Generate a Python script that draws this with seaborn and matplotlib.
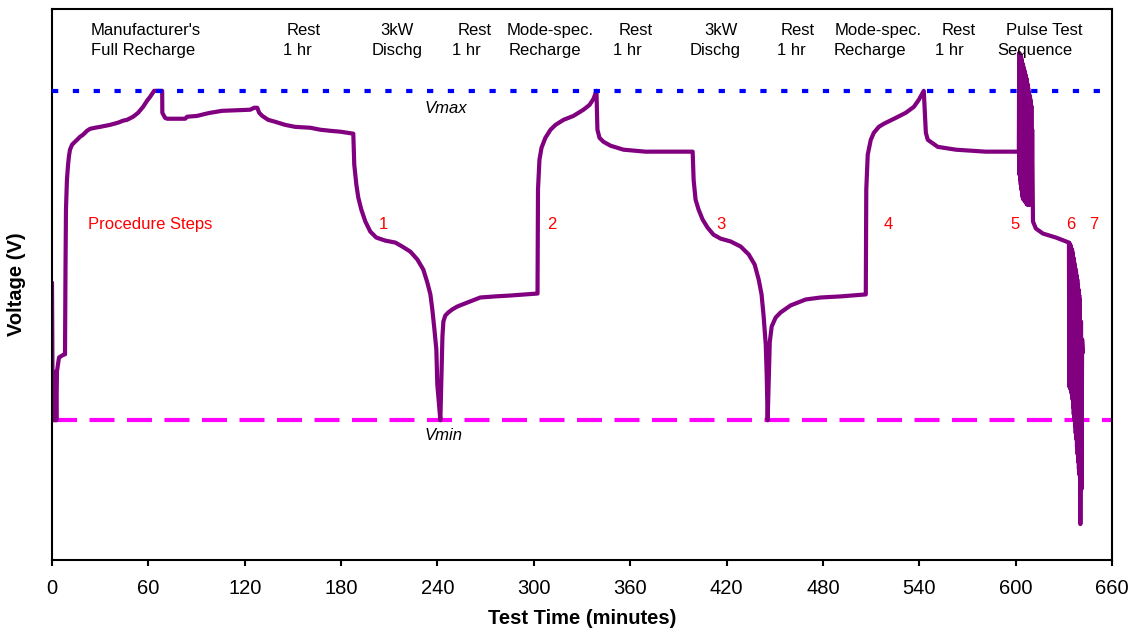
import numpy as np
import pandas as pd
import matplotlib
matplotlib.use("Agg")
import matplotlib.pyplot as plt
import seaborn as sns

sns.set_theme(style="white")
plt.rcParams["font.family"] = ["Liberation Sans", "DejaVu Sans"]
plt.rcParams["path.simplify"] = False

# ---- Voltage trace, one (minutes, volts) pair per test phase ----
t_full_recharge = [0.0, 0.3, 0.7, 1.2, 1.7, 2.2, 2.7, 3.1, 4.0, 4.4, 7.5, 8.1,
                   8.4, 8.7, 9.3, 10.0, 10.6, 11.2, 12.5, 14.3, 15.6, 17.5, 19.3, 21.8,
                   23.7, 26.8, 29.9, 36.1, 41.1, 44.2, 46.7, 50.5, 53.6, 56.7, 59.2, 61.1,
                   63.6, 68.6, 68.7, 70.4, 71.7, 82.9, 84.1, 90.4, 95.4, 98.5, 105.9, 123.4,
                   125.9, 127.8, 129.0, 130.9, 134.6, 139.0, 145.2, 151.4, 160.8, 167.0, 173.3,
                   179.5, 187.6]
v_full_recharge = [3.127, 2.718, 2.5, 2.72, 2.5, 2.72, 2.5, 2.723, 2.768, 2.786, 2.8, 2.8,
                   3.186, 3.459, 3.595, 3.664, 3.705, 3.732, 3.755, 3.768, 3.777, 3.791, 3.8, 3.818,
                   3.827, 3.832, 3.836, 3.845, 3.855, 3.864, 3.868, 3.882, 3.9, 3.927, 3.955, 3.973,
                   4.0, 4.0, 3.9, 3.877, 3.873, 3.873, 3.882, 3.886, 3.895, 3.9, 3.909, 3.914,
                   3.923, 3.923, 3.9, 3.886, 3.868, 3.859, 3.845, 3.836, 3.832, 3.823, 3.818,
                   3.814, 3.805]

t_discharge_1 = [187.6, 188.2, 189.5, 190.7, 192.6, 195.1, 198.2, 201.9, 207.5, 213.8, 218.1, 223.1,
                 227.5, 231.2, 233.7, 235.6, 236.8, 238.1, 239.3, 239.9, 241.8, 243.1, 243.7, 244.9,
                 246.8, 249.3, 252.4, 258.6, 266.7, 276.1, 285.4, 302.3]
v_discharge_1 = [3.805, 3.664, 3.573, 3.514, 3.459, 3.405, 3.359, 3.332, 3.318, 3.309, 3.291, 3.268,
                 3.232, 3.186, 3.127, 3.073, 3.005, 2.914, 2.823, 2.664, 2.5, 2.882, 2.95, 2.977,
                 2.991, 3.005, 3.018, 3.036, 3.059, 3.064, 3.068, 3.077]

t_recharge_2 = [302.3, 302.6, 303.5, 304.8, 307.2, 310.4, 313.5, 318.5, 324.7, 330.9, 334.7, 337.2,
                339.0, 339.6, 340.9, 343.4, 347.8, 355.9, 369.6, 398.9]
v_recharge_2 = [3.077, 3.55, 3.686, 3.741, 3.786, 3.823, 3.845, 3.868, 3.886, 3.914, 3.936, 3.964,
                4.0, 3.823, 3.786, 3.768, 3.75, 3.732, 3.723, 3.723]

t_discharge_3 = [398.9, 399.5, 400.7, 402.6, 405.1, 408.2, 411.9, 416.3, 422.6, 428.8, 433.8, 437.5,
                 440.0, 441.8, 443.1, 444.4, 445.0, 445.6, 446.9, 448.1, 450.6, 453.7, 459.9, 469.3,
                 478.6, 491.1, 506.7]
v_discharge_3 = [3.723, 3.595, 3.505, 3.459, 3.414, 3.377, 3.345, 3.327, 3.314, 3.291, 3.255, 3.209,
                 3.141, 3.073, 2.973, 2.845, 2.709, 2.5, 2.855, 2.927, 2.968, 2.991, 3.023, 3.05,
                 3.059, 3.064, 3.073]

t_recharge_4 = [506.7, 507.0, 507.9, 509.8, 511.7, 514.8, 517.9, 525.4, 531.6, 536.6, 539.7, 542.8,
                544.1, 545.3, 551.5, 562.8, 581.5, 602.0]
v_recharge_4 = [3.073, 3.55, 3.709, 3.777, 3.809, 3.836, 3.85, 3.877, 3.9, 3.927, 3.959, 4.0,
                3.809, 3.777, 3.745, 3.732, 3.723, 3.723]

t_pulse_5 = [602.0, 602.2, 602.4, 602.6, 602.8, 603.0, 603.2, 603.4, 603.6, 603.8, 604.0, 604.2,
             604.4, 604.6, 604.8, 605.0, 605.2, 605.4, 605.6, 605.8, 606.0, 606.2, 606.4, 606.6,
             606.8, 607.0, 607.2, 607.4, 607.6, 607.8, 608.0, 608.2, 608.4, 608.6, 608.8, 609.0,
             609.2, 609.4, 609.6, 609.8, 610.0, 610.3, 610.8, 612.6, 617.0, 625.1, 633.2]
v_pulse_5 = [3.723, 4.173, 3.618, 4.168, 3.595, 4.164, 3.573, 4.155, 3.55, 4.141, 3.527, 4.127,
             3.514, 4.118, 3.505, 4.105, 3.505, 4.095, 3.5, 4.082, 3.495, 4.073, 3.491, 4.059,
             3.486, 4.05, 3.482, 4.032, 3.482, 4.014, 3.482, 3.995, 3.482, 3.982, 3.482, 3.968,
             3.495, 3.955, 3.505, 3.932, 3.55, 3.823, 3.405, 3.373, 3.35, 3.332, 3.309]

t_pulse_6 = [633.2, 633.4, 633.6, 633.8, 634.0, 634.2, 634.4, 634.6, 634.8, 635.0, 635.2, 635.4,
             635.6, 635.8, 636.0, 636.2, 636.4, 636.6, 636.8, 637.0, 637.2, 637.4, 637.6, 637.8,
             638.0, 638.2, 638.4, 638.6, 638.8, 639.0, 639.2, 639.4, 639.6, 639.8, 640.0, 640.3,
             640.7, 641.0, 641.4, 641.9]
v_pulse_6 = [3.309, 2.655, 3.305, 2.648, 3.3, 2.641, 3.291, 2.63, 3.282, 2.618, 3.273, 2.595,
             3.259, 2.56, 3.241, 2.527, 3.223, 2.5, 3.209, 2.473, 3.191, 2.441, 3.177, 2.414,
             3.159, 2.38, 3.141, 2.345, 3.118, 2.31, 3.095, 2.277, 3.07, 2.25, 3.05, 2.027,
             2.95, 2.186, 2.868, 2.809]

V_MAX = 4.0
V_MIN = 2.5

# ---- Annotation text ----
phase_line1 = ["Manufacturer's", "Rest", "3kW", "Rest", "Mode-spec.", "Rest",
               "3kW", "Rest", "Mode-spec.", "Rest", "Pulse Test"]
phase_line2 = ["Full Recharge", "1 hr", "Dischg", "1 hr", "Recharge", "1 hr",
               "Dischg", "1 hr", "Recharge", "1 hr", "Sequence"]
phase_line1_x = [58.6, 156.4, 215.0, 263.0, 310.4, 363.3, 416.3, 464.3, 514.2, 564.6, 617.9]
phase_line2_x = [56.4, 153.0, 215.0, 257.7, 306.6, 358.4, 412.6, 460.6, 509.2, 559.0, 611.7]

step_labels = ["1", "2", "3", "4", "5", "6", "7"]
step_x = [206.3, 311.0, 416.3, 520.4, 599.5, 634.4, 648.8]

x_ticks = [0, 60, 120, 180, 240, 300, 360, 420, 480, 540, 600, 660]

phases = [
    (t_full_recharge, v_full_recharge),
    (t_discharge_1, v_discharge_1),
    (t_recharge_2, v_recharge_2),
    (t_discharge_3, v_discharge_3),
    (t_recharge_4, v_recharge_4),
    (t_pulse_5, v_pulse_5),
    (t_pulse_6, v_pulse_6),
]
df = pd.DataFrame({
    "time": np.concatenate([p[0] for p in phases]),
    "volt": np.concatenate([p[1] for p in phases]),
})

fig, ax = plt.subplots(figsize=(11.31, 6.36), dpi=100)
fig.subplots_adjust(left=52 / 1131, right=1112 / 1131, bottom=76 / 636, top=627 / 636)

ax.axhline(V_MIN, color="#FF00FF", lw=3, linestyle=(0, (6, 3)), zorder=1)
sns.lineplot(data=df, x="time", y="volt", sort=False, estimator=None,
             color="#800080", lw=3, ax=ax, zorder=2)
ax.axhline(V_MAX, color="#0000FF", lw=3, linestyle=(0, (1.5, 3.5)), zorder=3)

ax.set_xlim(0, 660)
ax.set_ylim(1.8636, 4.3727)
ax.set_xticks(x_ticks)
ax.set_yticks([])
ax.tick_params(axis="x", direction="out", length=4.5, width=1.5, colors="black",
               labelsize=14.5, pad=9, bottom=True)
for sp in ax.spines.values():
    sp.set_color("black")
    sp.set_linewidth(1.5)

ax.set_xlabel("Test Time (minutes)", fontsize=14.5, fontweight="bold", labelpad=8, color="black")
ax.set_ylabel("Voltage (V)", fontsize=14.5, fontweight="bold", labelpad=19, color="black")

for txt, x in zip(phase_line1, phase_line1_x):
    ax.text(x, 4.2545, txt, ha="center", va="baseline", fontsize=12, color="black")
for txt, x in zip(phase_line2, phase_line2_x):
    ax.text(x, 4.1636, txt, ha="center", va="baseline", fontsize=12, color="black")

ax.text(231.8, 3.9, "Vmax", ha="left", va="baseline", fontsize=12, style="italic", color="black")
ax.text(231.8, 2.409, "Vmin", ha="left", va="baseline", fontsize=12, style="italic", color="black")

ax.text(22.4, 3.373, "Procedure Steps", ha="left", va="baseline", fontsize=12, color="#FF0000")
for txt, x in zip(step_labels, step_x):
    ax.text(x, 3.373, txt, ha="center", va="baseline", fontsize=12, color="#FF0000")

fig.savefig("out.png", dpi=100)
